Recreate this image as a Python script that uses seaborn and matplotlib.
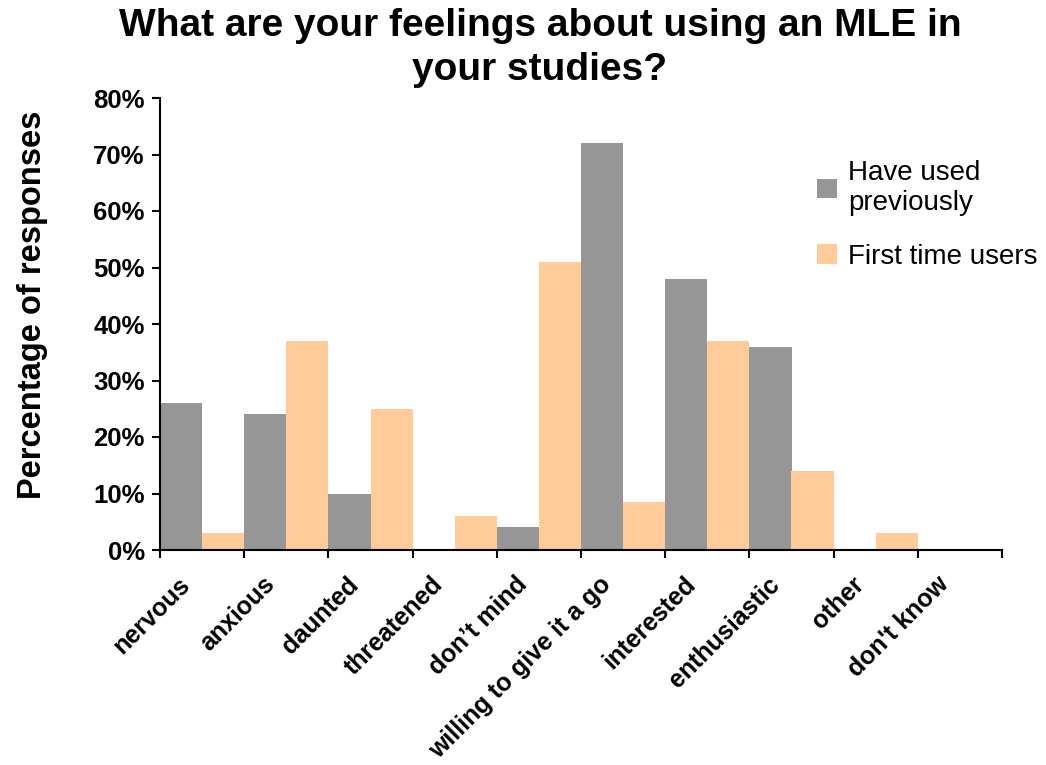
import matplotlib
matplotlib.use("Agg")
import matplotlib.pyplot as plt
import matplotlib.transforms as mtransforms
import seaborn as sns
import pandas as pd
from matplotlib.ticker import FixedLocator, PercentFormatter
from matplotlib.patches import Patch

categories = ["nervous", "anxious", "daunted", "threatened", "don\u2019t mind",
              "willing to give it a go", "interested", "enthusiastic", "other", "don't know"]
have_used = [26, 24, 10, 0, 4, 72, 48, 36, 0, 0]
first_time = [3, 37, 25, 6, 51, 8.5, 37, 14, 3, 0]
series_names = ["Have used\npreviously", "First time users"]
colors = ["#969696", "#FFCC99"]

df = pd.DataFrame({
    "category": categories * 2,
    "value": have_used + first_time,
    "series": [series_names[0]] * len(categories) + [series_names[1]] * len(categories),
})

sns.set_style("white")
plt.rcParams["font.family"] = ["Liberation Sans", "DejaVu Sans"]
plt.rcParams["text.color"] = "black"
plt.rcParams["axes.labelcolor"] = "black"
plt.rcParams["xtick.color"] = "black"
plt.rcParams["ytick.color"] = "black"

fig = plt.figure(figsize=(10.46, 7.65), dpi=100)
ax = fig.add_axes([160 / 1046, 1 - 550 / 765, (1002 - 160) / 1046, (550 - 98) / 765])

sns.barplot(data=df, x="category", y="value", hue="series", order=categories,
            hue_order=series_names, palette=colors, width=1.0, saturation=1,
            linewidth=0, ax=ax, legend=False)

ax.set_xlim(-0.5, len(categories) - 0.5)
ax.set_ylim(0, 80)
ax.yaxis.set_major_locator(FixedLocator(range(0, 81, 10)))
ax.yaxis.set_major_formatter(PercentFormatter(decimals=0))
for lbl in ax.get_yticklabels():
    lbl.set_fontweight("bold")
ax.tick_params(axis="y", labelsize=18.5, length=6, width=1.5, direction="out", left=True, pad=5)

ax.set_xticks(range(len(categories)))
ax.set_xticklabels(categories, rotation=45, ha="right", rotation_mode="anchor",
                   fontsize=18, fontweight="bold")
ax.tick_params(axis="x", which="major", length=0, pad=16)
shift = mtransforms.ScaledTranslation(-24 / 100, 0, fig.dpi_scale_trans)
for lbl in ax.get_xticklabels():
    lbl.set_transform(lbl.get_transform() + shift)
ax.set_xticks([i - 0.5 for i in range(len(categories) + 1)], minor=True)
ax.tick_params(axis="x", which="minor", length=6, width=1.5, direction="out", bottom=True)

for s in ["top", "right"]:
    ax.spines[s].set_visible(False)
for s in ["left", "bottom"]:
    ax.spines[s].set_linewidth(1.5)
    ax.spines[s].set_color("black")

ax.set_xlabel("")
ax.set_ylabel("Percentage of responses", fontsize=23.5, fontweight="bold")
ax.yaxis.set_label_coords(-112 / 842, (550 - 305) / 452)

handles = [Patch(facecolor=c, edgecolor="none") for c in colors]
ax.legend(handles, series_names, loc="upper left", bbox_to_anchor=(0.751, 0.918),
          frameon=False, fontsize=20, handlelength=0.7, handleheight=0.7,
          handletextpad=0.4, labelspacing=1.0)

fig.suptitle("What are your feelings about using an MLE in\nyour studies?",
             x=540 / 1046, y=1 - 8 / 765, fontsize=28, fontweight="bold", linespacing=1.3)

fig.savefig("out.png", dpi=100, facecolor="white")
